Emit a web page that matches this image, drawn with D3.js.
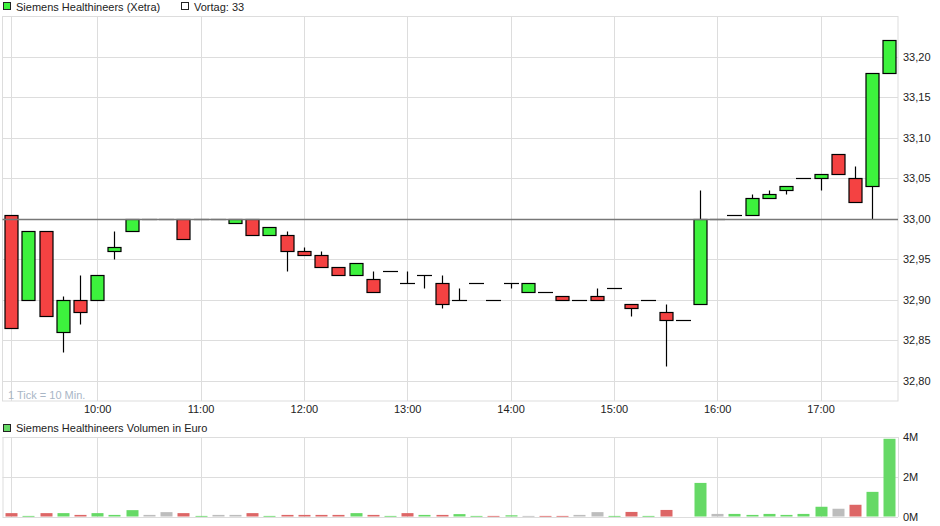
<!DOCTYPE html>
<html><head><meta charset="utf-8">
<script src="https://cdn.jsdelivr.net/npm/d3@7"></script>
<style>
body{margin:0;background:#fff}
svg{display:block}
text{font-family:"Liberation Sans",Arial,sans-serif}
</style></head><body>
<svg id="c" width="940" height="526"></svg>
<script>
const times = ["09:10","09:20","09:30","09:40","09:50","10:00","10:10","10:20","10:30","10:40","10:50",
"11:00","11:10","11:20","11:30","11:40","11:50","12:00","12:10","12:20","12:30","12:40","12:50",
"13:00","13:10","13:20","13:30","13:40","13:50","14:00","14:10","14:20","14:30","14:40","14:50",
"15:00","15:10","15:20","15:30","15:40","15:50","16:00","16:10","16:20","16:30","16:40","16:50",
"17:00","17:10","17:20","17:30","17:40"];
const open  = [33.005,32.90,32.985,32.86,32.90,32.90,32.96,32.985,33.00,33.00,33.00,
33.00,33.00,32.995,33.00,32.98,32.98,32.96,32.955,32.94,32.93,32.925,32.935,
32.92,32.93,32.92,32.90,32.92,32.90,32.92,32.91,32.91,32.905,32.90,32.905,
32.915,32.895,32.90,32.885,32.875,32.895,33.00,33.005,33.005,33.025,33.035,33.05,
33.05,33.08,33.05,33.04,33.18];
const high  = [33.005,32.985,32.985,32.905,32.93,32.93,32.985,33.00,33.00,33.00,33.00,
33.00,33.00,33.00,33.00,32.99,32.985,32.965,32.96,32.94,32.945,32.935,32.935,
32.935,32.93,32.93,32.915,32.92,32.90,32.92,32.92,32.91,32.905,32.90,32.915,
32.915,32.895,32.90,32.895,32.875,33.035,33.00,33.005,33.03,33.035,33.04,33.05,
33.055,33.08,33.065,33.18,33.22];
const low   = [32.865,32.90,32.88,32.835,32.87,32.90,32.95,32.985,33.00,33.00,32.975,
33.00,33.00,32.995,32.98,32.98,32.935,32.955,32.94,32.93,32.93,32.91,32.935,
32.92,32.915,32.89,32.90,32.92,32.90,32.915,32.91,32.91,32.90,32.90,32.90,
32.915,32.88,32.90,32.818,32.875,32.895,33.00,33.005,33.005,33.025,33.03,33.05,
33.035,33.055,33.02,33.00,33.18];
const close = [32.865,32.985,32.88,32.90,32.885,32.93,32.965,33.00,33.00,33.00,32.975,
33.00,33.00,33.00,32.98,32.99,32.96,32.955,32.94,32.93,32.945,32.91,32.935,
32.92,32.93,32.895,32.90,32.92,32.90,32.92,32.92,32.91,32.90,32.90,32.90,
32.915,32.89,32.90,32.875,32.875,33.00,33.00,33.005,33.025,33.03,33.04,33.05,
33.055,33.055,33.02,33.18,33.22];
const volumeMio = [0.17,0.03,0.17,0.17,0.08,0.17,0.08,0.32,0.08,0.22,0.17,
0.03,0.08,0.08,0.17,0.03,0.08,0.08,0.08,0.08,0.17,0.08,0.03,
0.17,0.08,0.08,0.12,0.03,0.03,0.06,0.03,0.03,0.03,0.08,0.22,
0.03,0.23,0.03,0.33,0.0,1.69,0.13,0.13,0.08,0.13,0.08,0.13,
0.49,0.39,0.59,1.24,3.91];
const prevClose = 33;
const priceTicks = [32.80,32.85,32.90,32.95,33.00,33.05,33.10,33.15,33.20];
const hourTicks = ["10:00","11:00","12:00","13:00","14:00","15:00","16:00","17:00"];
const volumeTicks = [0,2,4];
const domainStart = "09:05", domainEnd = "17:45";

const toMin = s => { const [h,m] = s.split(":").map(Number); return h*60+m; };
const svg = d3.select("#c");
const L = 2.5, R = 898;
const x = d3.scaleLinear().domain([toMin(domainStart), toMin(domainEnd)]).range([L, R]);
const y = d3.scaleLinear().domain([32.775, 33.25]).range([401, 16]);
const yv = d3.scaleLinear().domain([0, 4]).range([516.5, 437]);
const py = v => Math.round(y(v)) + 0.5;
const px = m => Math.round(x(m)) + 0.5;

const gridC = "#dddddd";
const red = "#f44242", green = "#3df23d";
const vRed = "#dd6666", vGreen = "#66d966", vGray = "#bdbdbd";
const data = times.map((t,i)=>({t, m: toMin(t), o: open[i], h: high[i], l: low[i], c: close[i], v: volumeMio[i],
  pc: i===0 ? prevClose : close[i-1]}));

// ---------- legends ----------
svg.append("rect").attr("x",3.5).attr("y",2.5).attr("width",7).attr("height",7).attr("fill",green).attr("stroke","#222");
svg.append("text").attr("x",16).attr("y",10.5).attr("font-size",11).attr("fill","#222").text("Siemens Healthineers (Xetra)");
svg.append("rect").attr("x",181.5).attr("y",2.5).attr("width",7).attr("height",7).attr("fill","#fff").attr("stroke","#222");
svg.append("text").attr("x",194).attr("y",10.5).attr("font-size",11).attr("fill","#222").text("Vortag: " + prevClose);

// ---------- main panel ----------
const main = svg.append("g");
main.selectAll("line.hg").data(priceTicks).join("line").attr("class","hg")
  .attr("x1",L).attr("x2",R).attr("y1",d=>py(d)).attr("y2",d=>py(d))
  .attr("stroke",gridC);
const vLines = [times[0]].concat(hourTicks);
main.selectAll("line.vg").data(vLines).join("line").attr("class","vg")
  .attr("x1",d=>px(toMin(d))).attr("x2",d=>px(toMin(d))).attr("y1",16).attr("y2",401)
  .attr("stroke",gridC);
main.append("rect").attr("x",L).attr("y",16.5).attr("width",R-L).attr("height",384.5)
  .attr("fill","none").attr("stroke",gridC);

main.append("text").attr("x",8).attr("y",399).attr("font-size",11).attr("fill","#a9b6c6").text("1 Tick = 10 Min.");

// candles
const cw = 13;
const cg = main.selectAll("g.candle").data(data).join("g").attr("class","candle");
cg.filter(d=>d.h!==d.l).append("line")
  .attr("x1",d=>px(d.m)).attr("x2",d=>px(d.m))
  .attr("y1",d=>py(d.h)).attr("y2",d=>py(d.l)).attr("stroke","#000").attr("stroke-width",1.2);
cg.filter(d=>d.o!==d.c).append("rect")
  .attr("x",d=>px(d.m)-cw/2).attr("width",cw)
  .attr("y",d=>py(Math.max(d.o,d.c))).attr("height",d=>Math.max(1, py(Math.min(d.o,d.c))-py(Math.max(d.o,d.c))))
  .attr("fill",d=>d.c>d.o?green:red).attr("stroke","#000").attr("stroke-width",1.2);
cg.filter(d=>d.o===d.c).append("line")
  .attr("x1",d=>px(d.m)-7.5).attr("x2",d=>px(d.m)+7.5)
  .attr("y1",d=>py(d.c)).attr("y2",d=>py(d.c)).attr("stroke","#000").attr("stroke-width",1.2);

// reference line (drawn above candles)
main.append("line").attr("x1",L).attr("x2",R).attr("y1",py(prevClose)).attr("y2",py(prevClose))
  .attr("stroke","#777").attr("stroke-width",1.3);

// y axis
const fmt = d3.format(".2f");
const ya = main.append("g").attr("transform",`translate(${R},0)`)
  .call(d3.axisRight(y).tickValues(priceTicks).tickSize(0).tickPadding(5).tickFormat(d=>fmt(d).replace(".",",")));
ya.select(".domain").remove();
ya.selectAll("text").attr("font-size",11).attr("fill","#222").attr("font-family","'Liberation Sans',Arial,sans-serif");

// x axis
const xa = main.append("g").attr("transform","translate(0,401)")
  .call(d3.axisBottom(x).tickValues(hourTicks.map(toMin)).tickSize(0).tickPadding(4)
    .tickFormat(d=>hourTicks[hourTicks.map(toMin).indexOf(d)]));
xa.select(".domain").remove();
xa.selectAll("text").attr("font-size",11).attr("fill","#222").attr("font-family","'Liberation Sans',Arial,sans-serif");

// ---------- volume panel ----------
svg.append("rect").attr("x",3.5).attr("y",424.5).attr("width",7).attr("height",7).attr("fill",vGreen).attr("stroke","#222");
svg.append("text").attr("x",16).attr("y",432).attr("font-size",11).attr("fill","#222").text("Siemens Healthineers Volumen in Euro");

const vol = svg.append("g");
vol.selectAll("line.hg").data(volumeTicks).join("line").attr("class","hg")
  .attr("x1",L).attr("x2",R).attr("y1",d=>Math.round(yv(d))+0.5).attr("y2",d=>Math.round(yv(d))+0.5).attr("stroke",gridC);
vol.selectAll("line.vg").data(vLines).join("line").attr("class","vg")
  .attr("x1",d=>px(toMin(d))).attr("x2",d=>px(toMin(d))).attr("y1",437).attr("y2",517)
  .attr("stroke",gridC);
vol.append("line").attr("x1",L+0.5).attr("x2",L+0.5).attr("y1",437).attr("y2",517).attr("stroke",gridC);
vol.append("line").attr("x1",R+0.5).attr("x2",R+0.5).attr("y1",437).attr("y2",517).attr("stroke",gridC);
const bw = 12;
vol.selectAll("rect.vb").data(data.filter(d=>d.v>0)).join("rect").attr("class","vb")
  .attr("x",d=>px(d.m)-bw/2).attr("width",bw)
  .attr("y",d=>yv(d.v)).attr("height",d=>Math.max(0.8, yv(0)-yv(d.v)))
  .attr("fill",d=>d.c>d.pc?vGreen:(d.c<d.pc?vRed:vGray));
const va = vol.append("g").attr("transform",`translate(${R},0)`)
  .call(d3.axisRight(yv).tickValues(volumeTicks).tickSize(0).tickPadding(5).tickFormat(d=>d+"M"));
va.select(".domain").remove();
va.selectAll("text").attr("font-size",11).attr("fill","#222").attr("font-family","'Liberation Sans',Arial,sans-serif");
</script>
</body></html>
